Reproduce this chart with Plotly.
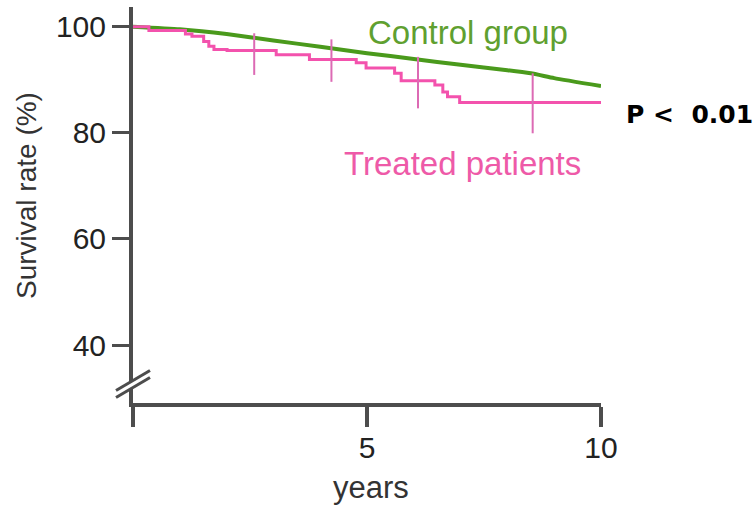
import plotly.graph_objects as go

# Control group survival (%) by year
ctrl_years = [0, 1, 2, 3, 4, 5, 6, 7, 8, 8.5, 9, 10]
ctrl_surv = [100, 99.5, 98.6, 97.4, 96.2, 95.0, 93.9, 92.8, 91.8, 91.2, 90.3, 88.8]

# Treated patients: Kaplan-Meier step points (time of event, survival after event)
km_years = [0, 0.34, 1.12, 1.26, 1.51, 1.62, 1.73, 2.01, 3.06, 3.77, 4.77, 4.98,
            5.59, 5.73, 6.45, 6.62, 6.72, 6.98]
km_surv = [100, 99.25, 98.6, 98.2, 97.2, 96.3, 95.7, 95.5, 94.7, 93.8, 93.2, 92.2,
           91.2, 89.8, 89.0, 87.7, 86.8, 85.7]
follow_up_end = 10

# Interval markers on the treated curve
mark_years = [2.59, 4.24, 6.09, 8.54]
ci_upper = [98.75, 97.6, 94.3, 91.2]
ci_lower = [90.9, 89.6, 84.6, 79.9]

x_ticks = [0, 5, 10]
x_ticktext = ["", "5", "10"]
y_ticks = [40, 60, 80, 100]

FONT = "Liberation Sans, Arial, sans-serif"
AXIS_COLOR = "#4d4d4d"
GREEN = "#4a9a1c"
PINK = "#f352ad"


def km_value(t):
    v = km_surv[0]
    for ty, s in zip(km_years, km_surv):
        if ty <= t:
            v = s
    return v


mark_surv = [km_value(t) for t in mark_years]

fig = go.Figure()

fig.add_trace(go.Scatter(
    x=ctrl_years, y=ctrl_surv, mode="lines",
    line=dict(color=GREEN, width=4, shape="spline", smoothing=0.5),
    hoverinfo="skip", showlegend=False,
))

fig.add_trace(go.Scatter(
    x=km_years + [follow_up_end], y=km_surv + [km_surv[-1]], mode="lines",
    line=dict(color=PINK, width=3, shape="hv"),
    hoverinfo="skip", showlegend=False,
))

fig.add_trace(go.Scatter(
    x=mark_years, y=mark_surv, mode="markers",
    marker=dict(size=1, color="rgba(0,0,0,0)"),
    error_y=dict(
        type="data", symmetric=False,
        array=[u - s for u, s in zip(ci_upper, mark_surv)],
        arrayminus=[s - l for s, l in zip(mark_surv, ci_lower)],
        width=0, thickness=2, color="#dc6ab4",
    ),
    hoverinfo="skip", showlegend=False,
))

# Plot-area geometry in pixels (used for placing decorations)
L, R, T, B = 133, 601, 7, 403
W, H = R - L, B - T


def px(xp, yp):
    return (xp - L) / W, (B - yp) / H


shapes = []
# axis break: white gap and two parallel strokes
x0, y0 = px(116, 394)
x1, y1 = px(150, 374)
shapes.append(dict(type="line", xref="paper", yref="paper", x0=x0, y0=y0, x1=x1, y1=y1,
                   line=dict(color="white", width=6), layer="above"))
for d in (-3.5, 3.5):
    a0, b0 = px(116, 394 + d)
    a1, b1 = px(150, 374 + d)
    shapes.append(dict(type="line", xref="paper", yref="paper", x0=a0, y0=b0, x1=a1, y1=b1,
                       line=dict(color=AXIS_COLOR, width=3), layer="above"))

annotations = [
    dict(text="Control group", x=7.15, y=98.9, xref="x", yref="y", showarrow=False,
         font=dict(family=FONT, size=33, color="#5fa030"), xanchor="center", yanchor="middle"),
    dict(text="Treated patients", x=7.03, y=74.2, xref="x", yref="y", showarrow=False,
         font=dict(family=FONT, size=33, color="#ee5aa8"), xanchor="center", yanchor="middle"),
    dict(text="<b>P &lt;&nbsp; 0.01</b>", x=px(689, 0)[0], y=px(0, 114)[1],
         xref="paper", yref="paper", showarrow=False,
         font=dict(family="DejaVu Sans, sans-serif", size=25, color="black"),
         xanchor="center", yanchor="middle"),
    dict(text="Survival rate (%)", x=px(26, 0)[0], y=px(0, 196)[1], xref="paper", yref="paper",
         showarrow=False, textangle=-90,
         font=dict(family=FONT, size=28, color="#333333"), xanchor="center", yanchor="middle"),
    dict(text="years", x=px(371, 0)[0], y=px(0, 487)[1], xref="paper", yref="paper",
         showarrow=False, font=dict(family=FONT, size=31, color="#333333"),
         xanchor="center", yanchor="middle"),
]

fig.update_layout(
    width=753, height=505,
    margin=dict(l=L, r=753 - R, t=T, b=505 - B),
    plot_bgcolor="white", paper_bgcolor="white",
    shapes=shapes, annotations=annotations,
    xaxis=dict(range=[0, 10], tickvals=x_ticks, ticktext=x_ticktext,
               showgrid=False, zeroline=False, showline=True, linecolor=AXIS_COLOR, linewidth=4,
               ticks="outside", ticklen=20, tickwidth=4, tickcolor=AXIS_COLOR,
               ticklabelstandoff=-5,
               tickfont=dict(family=FONT, size=30, color="#222222")),
    yaxis=dict(range=[29.07, 103.7], tickvals=y_ticks,
               showgrid=False, zeroline=False, showline=True, linecolor=AXIS_COLOR, linewidth=4,
               ticks="outside", ticklen=17, tickwidth=3, tickcolor=AXIS_COLOR,
               tickfont=dict(family=FONT, size=30, color="#222222")),
)

fig.write_html("out.html")
